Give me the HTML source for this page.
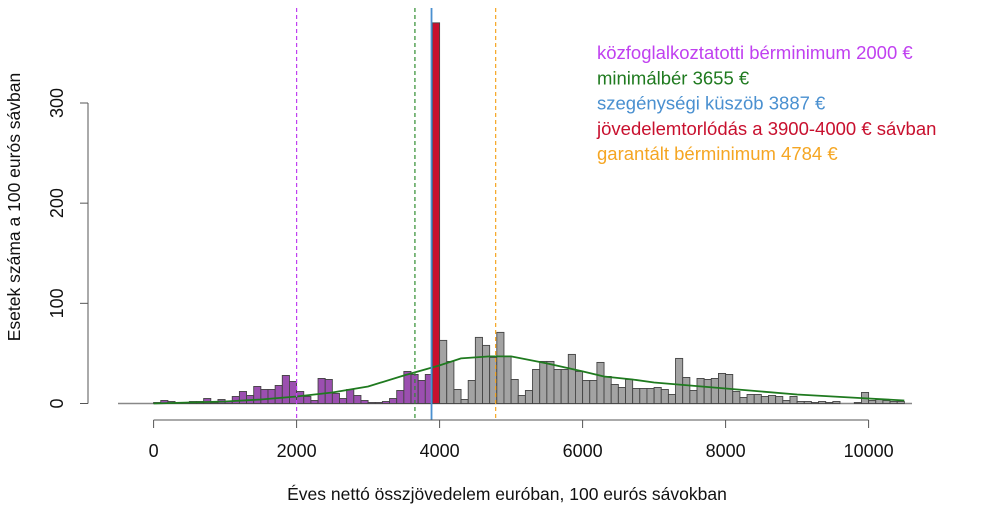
<!DOCTYPE html>
<html><head><meta charset="utf-8"><style>
body{margin:0;background:#fff;}
svg text{font-family:"Liberation Sans",sans-serif;}
</style></head><body>
<svg id="chart" width="990" height="527" viewBox="0 0 990 527" xmlns="http://www.w3.org/2000/svg"></svg>
<script>
// counts per 100 € bin, bins 0..104 (0-10500 €)
const binCounts = [1,3,2,1,1,2,2,5,1,4,2,7,12,8,17,14,14,18,28,22,12,7,3,25,24,10,5,14,8,3,1,1,2,5,13,32,29,23,29,380,
63,42,14,4,23,66,58,46,71,47,24,8,13,34,42,42,34,34,49,32,23,23,41,27,19,16,24,15,15,15,16,14,9,45,26,13,25,24,25,30,29,12,6,9,9,7,8,7,3,7,2,2,1,2,1,2,0,0,1,11,3,4,3,2,2];
const binWidth = 100;
const densityX = [0,500,1000,1500,2000,2500,3000,3500,4000,4300,4700,5000,5500,6000,6300,6700,7000,8000,9000,10000,10500];
const densityY = [0,1,2,4,7,11,17,28,38,45,47,47,40,32,27,24,21,15,9,5,3];
const xTicks = [0,2000,4000,6000,8000,10000];
const yTicks = [0,100,200,300];
const refValues = [2000,3655,3887,4784];
const refColors = ["#c040f0","#2e8b2e","#4a90d0","#f5a623"];
const refDash = ["4,3","4,3",null,"4,3"];
const legendLabels = ["közfoglalkoztatotti bérminimum 2000 €","minimálbér 3655 €","szegénységi küszöb 3887 €","jövedelemtorlódás a 3900-4000 € sávban","garantált bérminimum 4784 €"];
const legendColors = ["#c040f0","#1f7a1f","#4a90d0","#c8102e","#f5a623"];

const svg = document.getElementById('chart');
const NS = "http://www.w3.org/2000/svg";
const X0 = 153.6, XS = 0.0715, Y0 = 403.5, YS = 1.0017;
const xs = v => X0 + v*XS;
const ys = v => Y0 - v*YS;
function mk(tag, attrs){const e=document.createElementNS(NS,tag);for(const k in attrs)e.setAttribute(k,attrs[k]);svg.appendChild(e);return e;}

let bl = mk('line',{x1:118,x2:912,y1:Y0,y2:Y0,stroke:'#888','stroke-width':1.5});



binCounts.forEach((c,i)=>{
  const lo=i*binWidth, hi=lo+binWidth;
  let fill = hi<=3900 ? '#9b4fb0' : (lo===3900 ? '#c8102e' : '#a3a3a3');
  const r = mk('rect',{x:xs(lo),y:ys(c),width:xs(hi)-xs(lo),height:Y0-ys(c),fill:fill,stroke:'#444','stroke-width':0.9});
  
  
});

let d = densityX.map((x,i)=>(i?'L':'M')+xs(x).toFixed(1)+','+ys(densityY[i]).toFixed(1)).join(' ');
const dl = mk('path',{d:d,fill:'none',stroke:'#1f7a1f','stroke-width':1.8});



refValues.forEach((v,i)=>{
  const a={x1:xs(v),x2:xs(v),y1:8,y2:420,stroke:refColors[i],'stroke-width':refDash[i]?1.2:1.8};
  if(refDash[i]) a['stroke-dasharray']=refDash[i];
  const l = mk('line',a);
  
  
});

const ya = mk('line',{x1:88,x2:88,y1:ys(300),y2:ys(0),stroke:'#555','stroke-width':1});


yTicks.forEach(t=>{
  const tk = mk('line',{x1:80,x2:88,y1:ys(t),y2:ys(t),stroke:'#555','stroke-width':1});
  
  
  const tx = mk('text',{x:0,y:0,transform:`translate(63,${ys(t)}) rotate(-90)`,'text-anchor':'middle','font-size':18,fill:'#111'});
  tx.textContent=t;
  
  
});
const yt = mk('text',{transform:'translate(20,207) rotate(-90)','text-anchor':'middle','font-size':17.5,fill:'#111'});
yt.textContent='Esetek száma a 100 eurós sávban';



const xa = mk('line',{x1:xs(0),x2:xs(10000),y1:420,y2:420,stroke:'#555','stroke-width':1});


xTicks.forEach(t=>{
  const tk = mk('line',{x1:xs(t),x2:xs(t),y1:420,y2:428,stroke:'#555','stroke-width':1});
  
  
  const tx = mk('text',{x:xs(t),y:457,'text-anchor':'middle','font-size':18,fill:'#111'});
  tx.textContent=t;
  
  
});
const xt = mk('text',{x:507,y:500,'text-anchor':'middle','font-size':17.5,fill:'#111'});
xt.textContent='Éves nettó összjövedelem euróban, 100 eurós sávokban';



legendLabels.forEach((s,i)=>{
  const tx = mk('text',{x:597,y:59+i*25.3,'font-size':18.5,fill:legendColors[i]});
  tx.textContent=s;
  
  
});
</script>
</body></html>
